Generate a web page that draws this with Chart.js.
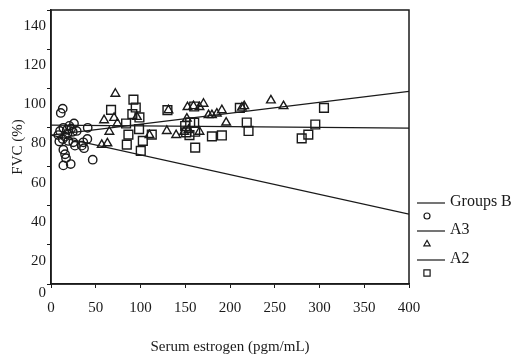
<!DOCTYPE html>
<html>
<head>
<meta charset="utf-8">
<script src="https://cdn.jsdelivr.net/npm/chart.js@4.4.0/dist/chart.umd.min.js"></script>
<style>
  html, body { margin: 0; padding: 0; background: #fff; }
  #wrap { width: 513px; height: 358px; }
</style>
</head>
<body>
<div id="wrap"><canvas id="fvc" width="513" height="358"></canvas></div>
<script>
/* ===== Data ===== */
var groupBx = [13.1, 10.9, 25.7, 20.5, 13.8, 41, 10.1, 17.6, 24.3, 28.7, 8.2, 15.7, 13.1, 9.3, 19.4, 24.9, 36.1, 40.6, 34.3, 36.9, 26.8, 13.8, 15.7, 16.8, 13.8, 22, 46.6, 18.5, 22.5];
var groupBy = [89.6, 87.4, 82, 80.8, 79.8, 79.8, 78.2, 78.7, 77.8, 78.2, 76.1, 75.3, 74.1, 72.8, 73.1, 72.4, 72.4, 74.1, 70.7, 69.4, 70.7, 68.6, 66.3, 64.3, 60.6, 61.3, 63.5, 76.8, 79.5];

var a3x = [71.9, 59.3, 70.5, 65.2, 74.2, 95.9, 131.2, 129.4, 139.8, 110, 63, 56.7, 152.5, 159.2, 165.9, 170.4, 151.8, 176, 179.8, 185.3, 190.9, 195.7, 213.3, 148.8, 165.9, 153.6, 215.9, 245.7, 259.8];
var a3y = [97.2, 83.7, 84.9, 77.8, 82, 85.4, 88.8, 78.2, 76.1, 76.1, 71.9, 71.1, 90.4, 90.9, 90.4, 92.1, 84.5, 86.3, 86.3, 87.1, 88.8, 82.5, 90.1, 77.8, 77.8, 78.7, 90.9, 93.8, 90.9];

var a2x = [92.1, 94.7, 67.1, 90.9, 98.8, 83.9, 98.4, 86.5, 112.6, 102.6, 84.7, 100.3, 130.1, 160, 155.5, 149.9, 160, 151, 154.7, 161.1, 179.8, 190.9, 161.1, 211, 218.7, 220.7, 305, 295.3, 287.5, 280.1];
var a2y = [94.2, 90.2, 89, 86.8, 85.1, 82, 79.1, 76.3, 76.3, 73.1, 71.2, 68, 88.8, 90.7, 82.6, 80.7, 82.4, 77.5, 76.1, 77.8, 75.4, 75.9, 69.7, 90, 82.5, 78.2, 90, 81.5, 76.3, 74.4];

/* fitted lines, value at x = 0 and x = 400 */
var fitX  = [0, 400];
var fitB  = [76.1, 35.7];
var fitA3 = [76.1, 98.4];
var fitA2 = [81.2, 79.6];

var xTicks = [0, 50, 100, 150, 200, 250, 300, 350, 400];
var yTicks = [0, 20, 40, 60, 80, 100, 120, 140];

var legendLabels = ['Groups B', 'A3', 'A2'];

/* ===== Helpers ===== */
var SERIF = "'Liberation Serif','DejaVu Serif',serif";
var INK = '#1a1a1a';

function pairs(xs, ys) {
    return xs.map(function (x, i) { return { x: x, y: ys[i] }; });
}

function pointSet(label, xs, ys, style, r) {
    return {
        type: 'scatter',
        label: label,
        data: pairs(xs, ys),
        pointStyle: style,
        pointRadius: r,
        pointHoverRadius: r,
        pointBorderWidth: 1.4,
        pointBorderColor: INK,
        pointBackgroundColor: 'rgba(255,255,255,0)',
        showLine: false
    };
}

function fitLine(label, ys) {
    return {
        type: 'line',
        label: label,
        data: pairs(fitX, ys),
        borderColor: INK,
        borderWidth: 1.2,
        pointRadius: 0,
        fill: false,
        tension: 0
    };
}

/* frame, zero label, and the legend on the right */
var framePlugin = {
    id: 'framePlugin',
    afterDraw: function (chart) {
        var ctx = chart.ctx;
        var a = chart.chartArea;
        var ys = chart.scales.y;
        ctx.save();
        ctx.strokeStyle = INK;
        ctx.lineWidth = 1.5;
        ctx.strokeRect(a.left, a.top, a.right - a.left, a.bottom - a.top);

        ctx.fillStyle = INK;
        ctx.font = '15px ' + SERIF;
        ctx.textAlign = 'right';
        ctx.textBaseline = 'middle';
        ctx.fillText('0', a.left - 5, ys.getPixelForValue(0) + 9);

        // legend
        var lx = a.right + 8, lw = 28, mx = lx + 10;
        var rows = [203, 231, 260];
        var marks = ['circle', 'triangle', 'rect'];
        var mr = [3, 3.6, 4.4];
        ctx.lineWidth = 1.2;
        ctx.textAlign = 'left';
        ctx.font = '16px ' + SERIF;
        for (var i = 0; i < rows.length; i++) {
            ctx.beginPath();
            ctx.moveTo(lx, rows[i]);
            ctx.lineTo(lx + lw, rows[i]);
            ctx.stroke();
            ctx.fillStyle = INK;
            ctx.fillText(legendLabels[i], lx + lw + 5, rows[i] - 1);
            ctx.fillStyle = '#ffffff';
            Chart.helpers.drawPoint(ctx, {
                pointStyle: marks[i], radius: mr[i], borderWidth: 1.3, rotation: 0
            }, mx, rows[i] + 13);
        }
        ctx.restore();
    }
};

/* ===== Chart ===== */
new Chart(document.getElementById('fvc'), {
    type: 'scatter',
    data: {
        datasets: [
            fitLine('Groups B fit', fitB),
            fitLine('A3 fit', fitA3),
            fitLine('A2 fit', fitA2),
            pointSet('Groups B', groupBx, groupBy, 'circle', 4.2),
            pointSet('A3', a3x, a3y, 'triangle', 5),
            pointSet('A2', a2x, a2y, 'rect', 6.2)
        ]
    },
    options: {
        responsive: false,
        animation: false,
        layout: { padding: { top: 7, right: 104, left: 0, bottom: 0 } },
        plugins: {
            legend: { display: false },
            tooltip: { enabled: false }
        },
        scales: {
            x: {
                type: 'linear',
                min: 0, max: 400,
                afterBuildTicks: function (s) { s.ticks = xTicks.map(function (v) { return { value: v }; }); },
                afterFit: function (s) { s.height = 74; },
                border: { display: true, color: INK, width: 1.5 },
                grid: { drawOnChartArea: false, drawTicks: true, tickLength: 4, color: INK },
                ticks: { color: INK, font: { family: SERIF, size: 15 }, padding: 11, maxRotation: 0 },
                title: { display: true, text: 'Serum estrogen (pgm/mL)', color: INK, font: { family: SERIF, size: 15 }, padding: { bottom: 2 } }
            },
            y: {
                type: 'linear',
                min: 0, max: 140,
                afterBuildTicks: function (s) { s.ticks = yTicks.map(function (v) { return { value: v }; }); },
                afterFit: function (s) { s.width = 51; },
                border: { display: true, color: INK, width: 1.5 },
                grid: { drawOnChartArea: false, drawTicks: true, tickLength: 4, color: INK },
                ticks: {
                    color: INK, font: { family: SERIF, size: 15 }, padding: 1, labelOffset: 16,
                    callback: function (v) { return v === 0 ? '' : v; }
                },
                title: { display: true, text: 'FVC (%)', color: INK, font: { family: SERIF, size: 15 }, padding: { top: 9 } }
            }
        }
    },
    plugins: [framePlugin]
});
</script>
</body>
</html>
